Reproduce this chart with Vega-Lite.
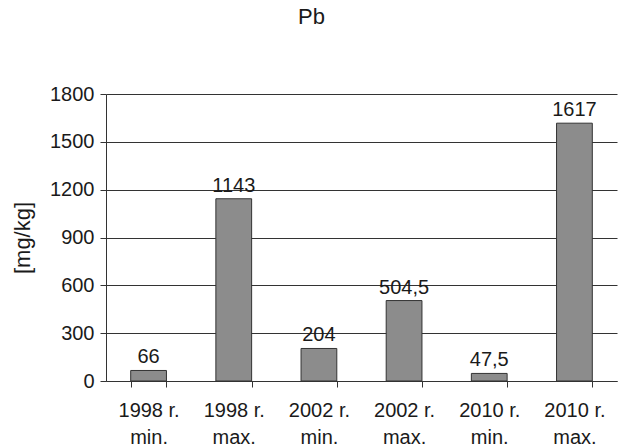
{
  "$schema": "https://vega.github.io/schema/vega-lite/v6.json",
  "autosize": "none",
  "width": 511,
  "height": 287,
  "padding": {"left": 106, "top": 94, "right": 1, "bottom": 67},
  "background": "white",
  "title": {
    "text": "Pb",
    "anchor": "middle",
    "dx": -50,
    "offset": 55,
    "font": "Liberation Sans",
    "fontSize": 22,
    "fontWeight": "normal",
    "color": "#1a1a1a"
  },
  "data": {
    "values": [
      {"sample": "1998 r. min.", "value": 66},
      {"sample": "1998 r. max.", "value": 1143},
      {"sample": "2002 r. min.", "value": 204},
      {"sample": "2002 r. max.", "value": 504.5},
      {"sample": "2010 r. min.", "value": 47.5},
      {"sample": "2010 r. max.", "value": 1617}
    ]
  },
  "encoding": {
    "x": {
      "field": "sample",
      "type": "nominal",
      "sort": null,
      "scale": {"paddingInner": 0.58, "paddingOuter": 0.29},
      "axis": {
        "title": null,
        "labelAngle": 0,
        "labelExpr": "split(replace(datum.label, ' m', '|m'), '|')",
        "labelFont": "Liberation Sans",
        "labelFontSize": 20,
        "labelColor": "#1a1a1a",
        "labelLineHeight": 27,
        "labelPadding": 13,
        "tickBand": "extent",
        "tickSize": 6,
        "tickColor": "#333333",
        "domainColor": "#333333",
        "grid": false
      }
    },
    "y": {
      "field": "value",
      "type": "quantitative",
      "scale": {"domain": [0, 1800], "nice": false},
      "axis": {
        "title": "[mg/kg]",
        "titleFont": "Liberation Sans",
        "titleFontSize": 22,
        "titleFontWeight": "normal",
        "titleColor": "#1a1a1a",
        "titlePadding": 15,
        "values": [0, 300, 600, 900, 1200, 1500, 1800],
        "format": "d",
        "labelFont": "Liberation Sans",
        "labelFontSize": 20,
        "labelColor": "#1a1a1a",
        "labelPadding": 6,
        "tickSize": 6,
        "tickColor": "#333333",
        "domainColor": "#333333",
        "grid": true,
        "gridColor": "#333333",
        "gridWidth": 1,
        "gridOpacity": 1
      }
    }
  },
  "layer": [
    {
      "mark": {
        "type": "bar",
        "color": "#8c8c8c",
        "stroke": "#333333",
        "strokeWidth": 1
      }
    },
    {
      "mark": {
        "type": "text",
        "baseline": "alphabetic",
        "dy": -7,
        "font": "Liberation Sans",
        "fontSize": 20,
        "color": "#1a1a1a"
      },
      "encoding": {
        "text": {"field": "value", "type": "quantitative", "format": ".1~f"}
      }
    }
  ],
  "config": {
    "view": {"stroke": null},
    "locale": {
      "number": {
        "decimal": ",",
        "thousands": "",
        "grouping": [3],
        "currency": ["", ""]
      }
    }
  }
}
